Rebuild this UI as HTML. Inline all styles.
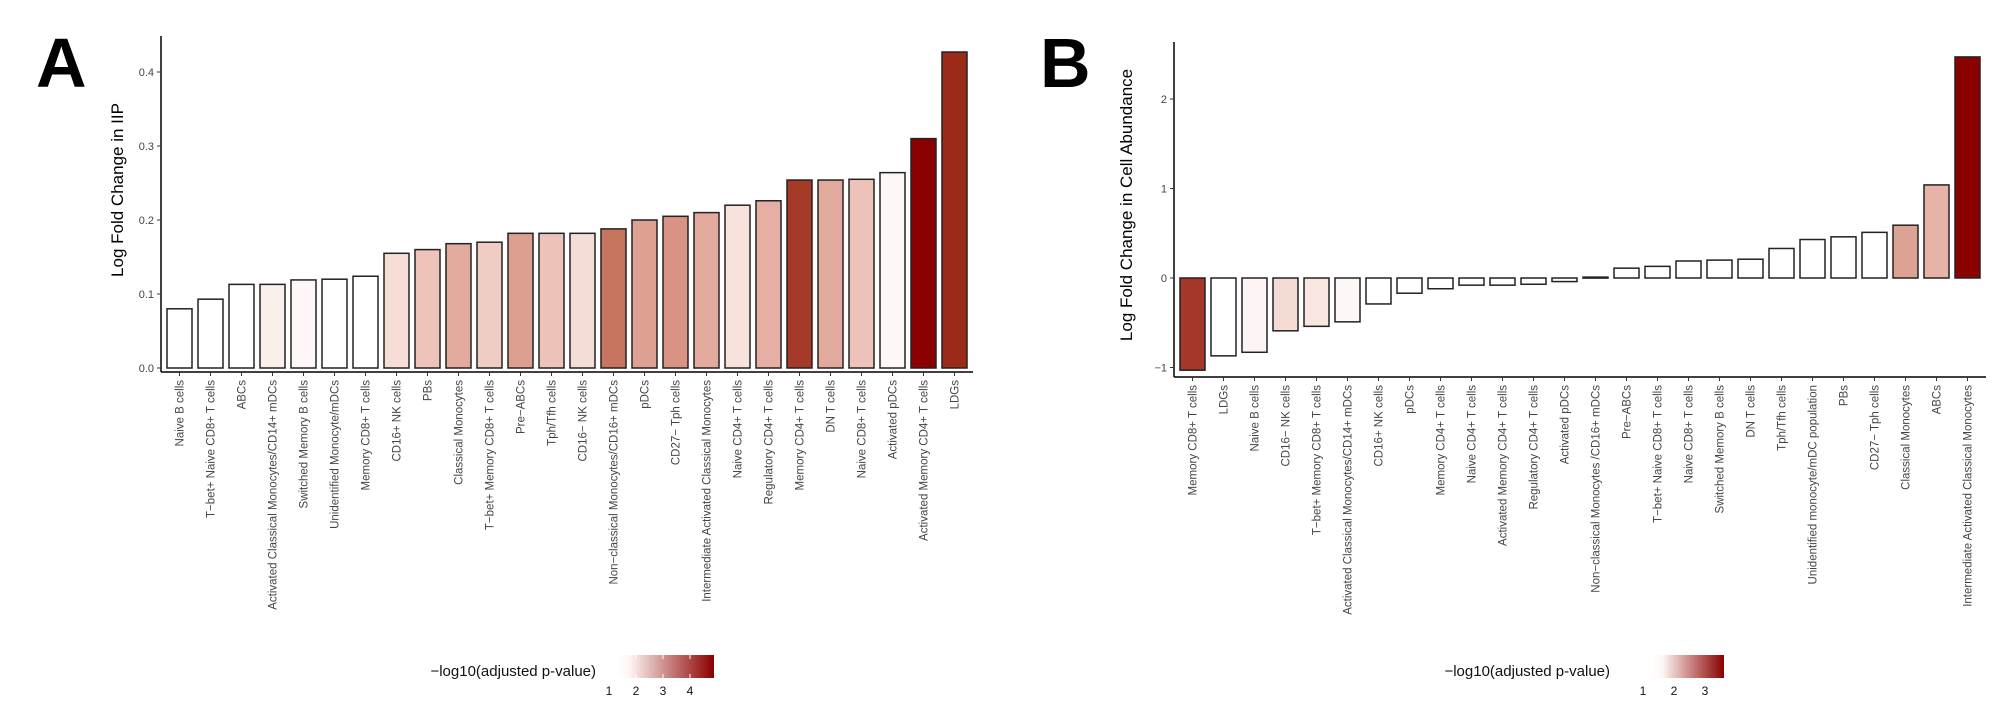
<!DOCTYPE html>
<html><head><meta charset="utf-8"><style>
body{margin:0;background:#fff}
svg{display:block;font-family:"Liberation Sans",sans-serif}
</style></head><body>
<svg id="chart" width="2000" height="712" viewBox="0 0 2000 712">
<defs>
<linearGradient id="gA" x1="0" x2="1"><stop offset="0" stop-color="#ffffff"/><stop offset="0.12" stop-color="#fdf5f3"/><stop offset="1" stop-color="#8b0000"/></linearGradient>
<linearGradient id="gB" x1="0" x2="1"><stop offset="0" stop-color="#ffffff"/><stop offset="0.15" stop-color="#fdf5f3"/><stop offset="1" stop-color="#8b0000"/></linearGradient>
</defs>
<text x="36" y="87" font-size="70" font-weight="bold">A</text>
<text x="1040" y="87" font-size="70" font-weight="bold">B</text>
<g id="pA"></g>
<g id="pB"></g>
<g>
<text x="596" y="676" font-size="15" text-anchor="end" fill="#111">−log10(adjusted p-value)</text>
<rect x="618" y="655" width="96" height="23" fill="url(#gA)"/>
<g stroke="#fff" stroke-width="1"><line x1="636" y1="655" x2="636" y2="659"/><line x1="663" y1="655" x2="663" y2="659"/><line x1="690" y1="655" x2="690" y2="659"/><line x1="636" y1="674" x2="636" y2="678"/><line x1="663" y1="674" x2="663" y2="678"/><line x1="690" y1="674" x2="690" y2="678"/></g>
<g font-size="12" text-anchor="middle" fill="#111"><text x="609" y="695">1</text><text x="636" y="695">2</text><text x="663" y="695">3</text><text x="690" y="695">4</text></g>
</g>
<g>
<text x="1610" y="676" font-size="15" text-anchor="end" fill="#111">−log10(adjusted p-value)</text>
<rect x="1652" y="655" width="72" height="23" fill="url(#gB)"/>
<g font-size="12" text-anchor="middle" fill="#111"><text x="1643" y="695">1</text><text x="1674" y="695">2</text><text x="1705" y="695">3</text></g>
</g>
</svg>
<script>
const catsA=["Naive B cells","T−bet+ Naive CD8+ T cells","ABCs","Activated Classical Monocytes/CD14+ mDCs","Switched Memory B cells","Unidentified Monocyte/mDCs","Memory CD8+ T cells","CD16+ NK cells","PBs","Classical Monocytes","T−bet+ Memory CD8+ T cells","Pre−ABCs","Tph/Tfh cells","CD16− NK cells","Non−classical Monocytes/CD16+ mDCs","pDCs","CD27− Tph cells","Intermediate Activated Classical Monocytes","Naive CD4+ T cells","Regulatory CD4+ T cells","Memory CD4+ T cells","DN T cells","Naive CD8+ T cells","Activated pDCs","Activated Memory CD4+ T cells","LDGs"];
const valsA=[0.08,0.093,0.113,0.113,0.119,0.12,0.124,0.155,0.16,0.168,0.17,0.182,0.182,0.182,0.188,0.2,0.205,0.21,0.22,0.226,0.254,0.254,0.255,0.264,0.31,0.427];
const colsA=["#ffffff","#ffffff","#ffffff","#fbefec","#fdf8f7","#ffffff","#ffffff","#f6ddd6","#eec4ba","#e2ab9e","#f0cdc4","#dd9f8f","#edc3b9","#f4ddd6","#c87560","#dda192","#d89384","#e2ab9e","#f7e2dc","#e5b0a3","#a53a28","#e2aa9c","#edc3b9","#fdf8f6","#8b0000","#9c2a18"];
const ticksA=[0,0.1,0.2,0.3,0.4];
const tickLabA=["0.0","0.1","0.2","0.3","0.4"];
const catsB=["Memory CD8+ T cells","LDGs","Naive B cells","CD16− NK cells","T−bet+ Memory CD8+ T cells","Activated Classical Monocytes/CD14+ mDCs","CD16+ NK cells","pDCs","Memory CD4+ T cells","Naive CD4+ T cells","Activated Memory CD4+ T cells","Regulatory CD4+ T cells","Activated pDCs","Non−classical Monocytes /CD16+ mDCs","Pre−ABCs","T−bet+ Naive CD8+ T cells","Naive CD8+ T cells","Switched Memory B cells","DN T cells","Tph/Tfh cells","Unidentified monocyte/mDC population","PBs","CD27− Tph cells","Classical Monocytes","ABCs","Intermediate Activated Classical Monocytes"];
const valsB=[-1.03,-0.87,-0.83,-0.59,-0.54,-0.49,-0.29,-0.17,-0.12,-0.08,-0.08,-0.07,-0.04,0.01,0.11,0.13,0.19,0.2,0.21,0.33,0.43,0.46,0.51,0.59,1.04,2.47];
const colsB=["#a5372a","#ffffff","#fdf5f3","#f4dcd5","#f8e6e1","#fdf8f6","#ffffff","#ffffff","#ffffff","#ffffff","#ffffff","#ffffff","#ffffff","#ffffff","#ffffff","#ffffff","#ffffff","#ffffff","#ffffff","#ffffff","#ffffff","#ffffff","#ffffff","#dca394","#e6b3a6","#8b0000"];
const ticksB=[-1,0,1,2];
const tickLabB=["−1","0","1","2"];
const NS="http://www.w3.org/2000/svg";
function mk(p,t,a){const e=document.createElementNS(NS,t);for(const k in a)e.setAttribute(k,a[k]);p.appendChild(e);return e;}
function panel(gid,cats,vals,cols,ticks,labs,cfg){
  const g=document.getElementById(gid);
  const y=v=>cfg.y0-(v-cfg.v0)*cfg.k;
  const step=31,bw=25;
  const ax=mk(g,'line',{x1:cfg.ax,y1:cfg.top,x2:cfg.ax,y2:cfg.bot,stroke:'#000','stroke-width':1.5});
  
  
  const xa=mk(g,'line',{x1:cfg.ax,y1:cfg.bot,x2:cfg.ax+6+cats.length*step,y2:cfg.bot,stroke:'#000','stroke-width':1.5});
  
  
  ticks.forEach((t,i)=>{
    mk(g,'line',{x1:cfg.ax-4,y1:y(t),x2:cfg.ax,y2:y(t),stroke:'#333'});
    const tx=mk(g,'text',{x:cfg.ax-7,y:y(t)+4,'font-size':11,'text-anchor':'end',fill:'#444'});
    tx.textContent=labs[i];
    
    
  });
  cats.forEach((c,i)=>{
    const x=cfg.ax+6+i*step;
    const v=vals[i];
    const y1=Math.min(y(v),y(0)),h=Math.max(Math.abs(y(v)-y(0)),1);
    const r=mk(g,'rect',{x:x,y:y1,width:bw,height:h,fill:cols[i],stroke:'#222','stroke-width':1.5});
    
    
    const cx=x+bw/2;
    mk(g,'line',{x1:cx,y1:cfg.bot,x2:cx,y2:cfg.bot+4,stroke:'#333'});
    const tx=mk(g,'text',{x:0,y:0,'font-size':11.5,'text-anchor':'end',fill:'#444',transform:`translate(${cx+4},${cfg.bot+8}) rotate(-90)`});
    tx.textContent=c;
    
    
  });
  const tt=mk(g,'text',{x:0,y:0,'font-size':17,'text-anchor':'middle',fill:'#000',transform:`translate(${cfg.tx},${cfg.ty}) rotate(-90)`});
  tt.textContent=cfg.title;
  
  
}
panel('pA',catsA,valsA,colsA,ticksA,tickLabA,{ax:161,top:36,bot:372,y0:368,v0:0,k:740,tx:123,ty:190,title:'Log Fold Change in IIP'});
panel('pB',catsB,valsB,colsB,ticksB,tickLabB,{ax:1174,top:42,bot:377,y0:278,v0:0,k:89.5,tx:1132,ty:205,title:'Log  Fold Change  in Cell Abundance'});
</script>
</body></html>
